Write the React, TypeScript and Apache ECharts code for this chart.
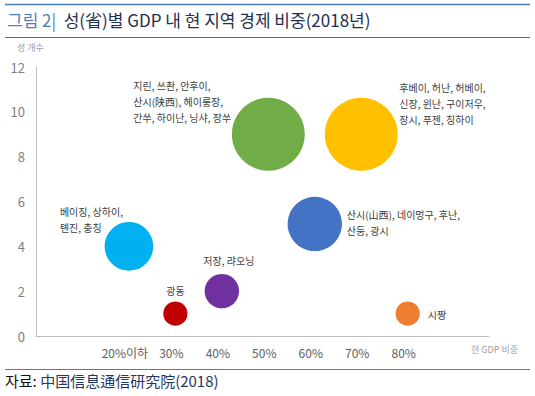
import React, { useEffect, useRef } from "react";
import * as echarts from "echarts";

const xValues = [20, 30, 40, 50, 60, 70, 80];
const xTickLabels = ["20%이하", "30%", "40%", "50%", "60%", "70%", "80%"];
const provinceCounts = [4, 1, 2, 9, 5, 9, 1];
const groupLabels = [
  "베이징, 상하이,\n톈진, 충칭",
  "광동",
  "저장, 랴오닝",
  "지린, 쓰촨, 안후이,\n산시(陕西), 헤이룽장,\n간쑤, 하이난, 닝샤, 장쑤",
  "산시(山西), 네이멍구, 후난,\n산둥, 광시",
  "후베이, 허난, 허베이,\n신장, 윈난, 구이저우,\n장시, 푸젠, 칭하이",
  "시짱",
];
const bubbleColors = ["#00B0F0", "#C00000", "#7030A0", "#70AD47", "#4472C4", "#FFC000", "#ED7D31"];
const yTicks = [0, 2, 4, 6, 8, 10, 12];

// label placement relative to bubble centre: [dx, dy, align, verticalAlign]
const labelPlacement: [number, number, string, string][] = [
  [-69, -43, "left", "top"],
  [0, -23, "center", "middle"],
  [7, -31, "center", "middle"],
  [-135, -57, "left", "top"],
  [32, -17, "left", "top"],
  [38, -55, "left", "top"],
  [20, 1, "left", "middle"],
];

const FONT = "'Noto Sans CJK KR', 'Noto Sans', sans-serif";

export default function App() {
  const ref = useRef<HTMLDivElement>(null);
  useEffect(() => {
    document.body.style.margin = "0";
    const chart = echarts.init(ref.current!, null, { renderer: "svg" });
    const tickMap: Record<number, string> = {};
    xValues.forEach((v, i) => (tickMap[v] = xTickLabels[i]));

    const data = xValues.map((x, i) => ({
      value: [x, provinceCounts[i], provinceCounts[i]],
      itemStyle: { color: bubbleColors[i], opacity: 1 },
      label: {
        show: true,
        formatter: groupLabels[i],
        position: "inside",
        align: labelPlacement[i][2],
        verticalAlign: labelPlacement[i][3],
        offset: [labelPlacement[i][0], labelPlacement[i][1]],
        color: "#404040",
        fontSize: 10,
        lineHeight: 16,
        fontFamily: FONT,
      },
    }));

    chart.setOption({
      animation: false,
      textStyle: { fontFamily: FONT },
      grid: { left: 36, right: 46, top: 67, bottom: 60, containLabel: false },
      xAxis: {
        type: "value",
        min: 0,
        max: 97.5,
        interval: 10,
        axisLine: { show: true, lineStyle: { color: "#BFBFBF", width: 1 } },
        axisTick: { show: false },
        splitLine: { show: false },
        axisLabel: {
          color: "#606060",
          fontSize: 12,
          margin: 10,
          padding: [0, 8, 0, 0],
          showMinLabel: true,
          showMaxLabel: false,
          formatter: (v: number) => tickMap[v] ?? "",
        },
      },
      yAxis: {
        type: "value",
        min: yTicks[0],
        max: yTicks[yTicks.length - 1],
        interval: 2,
        axisLine: { show: true, lineStyle: { color: "#BFBFBF", width: 1 } },
        axisTick: { show: false },
        splitLine: { show: false },
        axisLabel: { color: "#7F7F7F", fontSize: 13, margin: 11 },
      },
      series: [
        {
          type: "scatter",
          symbol: "circle",
          symbolSize: (val: number[]) => 24.3 * Math.sqrt(val[2]),
          data,
          emphasis: { disabled: true },
        },
      ],
      graphic: [
        { type: "line", shape: { x1: 5, y1: 4.5, x2: 530, y2: 4.5 }, style: { stroke: "#4A7EBB", lineWidth: 1.5 } },
        { type: "line", shape: { x1: 5, y1: 37.5, x2: 530, y2: 37.5 }, style: { stroke: "#4A6E9B", lineWidth: 1.2 } },
        { type: "line", shape: { x1: 5, y1: 369.5, x2: 530, y2: 369.5 }, style: { stroke: "#4A7EBB", lineWidth: 1.2 } },
        {
          type: "text",
          left: 7,
          top: 11,
          style: {
            text: "{a|그림 2|}  {b|성(省)별 GDP 내 현 지역 경제 비중(2018년)}",
            rich: {
              a: { fontSize: 17, fill: "#4F7FB8", fontFamily: FONT },
              b: { fontSize: 17, fill: "#1F2F50", fontFamily: FONT },
            },
            fontSize: 17,
            fontFamily: FONT,
          },
        },
        {
          type: "text",
          left: 5,
          top: 373,
          style: {
            text: "{a|자료:} {b|中国信息通信研究院(2018)}",
            rich: {
              a: { fontSize: 15, fill: "#111111", fontFamily: FONT },
              b: { fontSize: 15, fill: "#1F3864", fontFamily: FONT },
            },
            fontSize: 15,
            fontFamily: FONT,
          },
        },
        {
          type: "text",
          left: 17,
          top: 43,
          style: { text: "성 개수", fontSize: 9, fill: "#A0A0A0", fontFamily: FONT },
        },
        {
          type: "text",
          left: 471,
          top: 345,
          style: { text: "현 GDP 비중", fontSize: 9, fill: "#A0A0A0", fontFamily: FONT },
        },
      ],
    });
    return () => chart.dispose();
  }, []);
  return <div ref={ref} style={{ width: 535, height: 396 }} />;
}
